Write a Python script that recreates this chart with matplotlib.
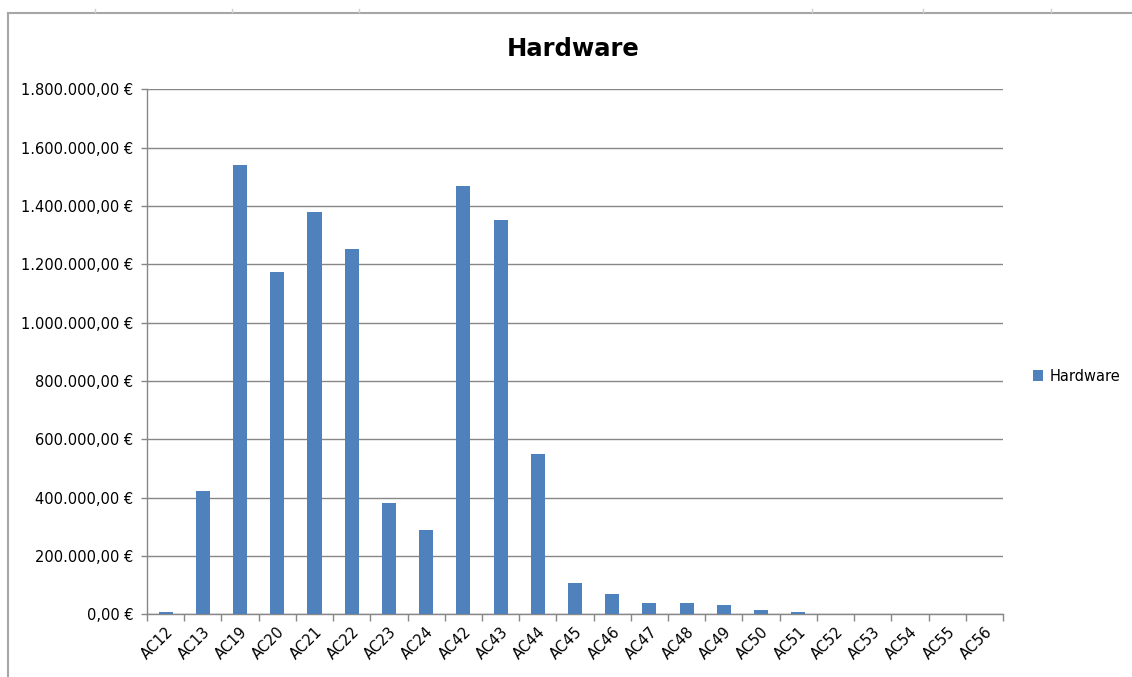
import numpy as np
import matplotlib.pyplot as plt
from matplotlib.lines import Line2D
from matplotlib.ticker import FuncFormatter, FixedLocator

categories = ['AC12', 'AC13', 'AC19', 'AC20', 'AC21', 'AC22', 'AC23', 'AC24',
              'AC42', 'AC43', 'AC44', 'AC45', 'AC46', 'AC47', 'AC48', 'AC49',
              'AC50', 'AC51', 'AC52', 'AC53', 'AC54', 'AC55', 'AC56']
hardware = [7000, 423000, 1541000, 1175000, 1379000, 1252000, 381000, 290000,
            1470000, 1352000, 551000, 106000, 69000, 39000, 39000, 31000,
            15000, 7000, 0, 0, 0, 0, 0]
yticks = np.arange(0, 1800001, 200000)

bar_color = '#4F81BD'
grid_color = '#878787'


def euro(v, pos=None):
    # 1234567.5 -> "1.234.567,50 €"
    s = '{:,.2f}'.format(v)
    s = s.replace(',', 'X').replace('.', ',').replace('X', '.')
    return s + ' €'


plt.rcParams['font.family'] = ['DejaVu Sans']

fig = plt.figure(figsize=(11.32, 6.77), dpi=100)
ax = fig.add_axes([0.1299, 0.0926, 0.886 - 0.1299, 0.7752])

x = np.arange(len(categories))
ax.bar(x, hardware, width=0.38, color=bar_color, label='Hardware', zorder=3)

ax.set_xlim(-0.5, len(categories) - 0.5)
ax.set_ylim(0, 1800000)
ax.set_yticks(yticks)
ax.yaxis.set_major_formatter(FuncFormatter(euro))
ax.yaxis.grid(True, color=grid_color, linewidth=1.0, zorder=0)

# labels at category centres, tick marks at category boundaries
ax.set_xticks(x)
ax.set_xticklabels(categories, rotation=45, ha='right', rotation_mode='anchor')
ax.xaxis.set_minor_locator(FixedLocator(np.arange(-0.5, len(categories), 1.0)))
ax.tick_params(axis='x', which='major', length=0, pad=7, labelsize=10.5)
ax.tick_params(axis='x', which='minor', length=5, color=grid_color, width=1)
ax.tick_params(axis='y', length=4, color=grid_color, width=1, pad=6, labelsize=10.5)

for side in ['top', 'right']:
    ax.spines[side].set_visible(False)
for side in ['left', 'bottom']:
    ax.spines[side].set_color(grid_color)
    ax.spines[side].set_linewidth(1.0)

fig.text(0.506, 0.928, 'Hardware', ha='center', va='center',
         fontsize=17.5, fontweight='bold')

ax.legend(loc='center left', bbox_to_anchor=(1.02, 0.454), frameon=False,
          handlelength=0.7, handleheight=0.7, handletextpad=0.4, fontsize=10.5)

# chart frame (left and top edges) with the sheet column marks above it
frame_x = 7.5 / 1132
frame_y = 1 - 12.5 / 677
fig.lines.append(Line2D([frame_x, frame_x], [0, frame_y], transform=fig.transFigure,
                        color='#a6a6a6', linewidth=1.5))
fig.lines.append(Line2D([frame_x, 1], [frame_y, frame_y], transform=fig.transFigure,
                        color='#a6a6a6', linewidth=1.5))
for cx in [95, 232, 359, 812, 923, 1051]:
    fig.lines.append(Line2D([cx / 1132, cx / 1132], [1 - 9 / 677, 1 - 12 / 677],
                            transform=fig.transFigure, color='#d0d0d0',
                            linewidth=1))

fig.savefig('out.png', dpi=100)
